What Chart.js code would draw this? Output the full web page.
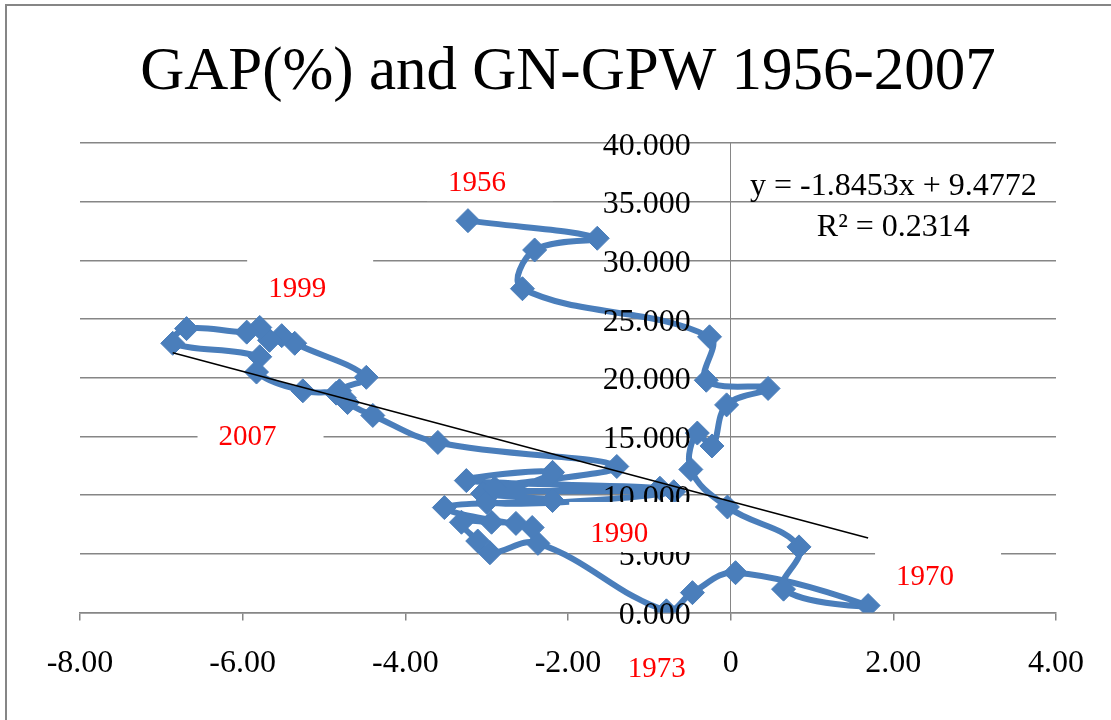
<!DOCTYPE html>
<html>
<head>
<meta charset="utf-8">
<script src="https://cdn.jsdelivr.net/npm/chart.js@4.4.1/dist/chart.umd.min.js"></script>
<style>
  html, body { margin: 0; padding: 0; background: #fff; }
  canvas { display: block; }
</style>
</head>
<body>
<canvas id="c" width="1111" height="720"></canvas>
<script>
// ---- data ----
const years = [1956,1957,1958,1959,1960,1961,1962,1963,1964,1965,1966,1967,1968,1969,1970,1971,1972,1973,
  1974,1975,1976,1977,1978,1979,1980,1981,1982,1983,1984,1985,1986,1987,1988,1989,1990,
  1991,1992,1993,1994,1995,1996,1997,1998,1999,2000,2001,2002,2003,2004,2005,2006,2007];
const gapPct = [-3.23,-1.64,-2.41,-2.56,-0.26,-0.30,0.46,-0.05,-0.23,-0.41,-0.49,-0.04,0.84,0.65,1.69,0.06,-0.47,-0.79,
  -2.37,-2.96,-3.11,-3.31,-2.94,-2.64,-2.44,-3.52,-2.19,-3.05,-0.87,-3.25,-2.19,-3.00,-0.70,-2.90,-1.40,
  -3.60,-4.40,-4.71,-4.81,-4.48,-5.36,-5.52,-5.67,-5.79,-5.95,-6.69,-6.86,-5.79,-5.83,-5.26,-4.85,-4.75];
const gnGpw = [33.4,31.9,30.9,27.6,23.5,19.8,19.1,17.7,14.2,15.3,12.2,9.0,5.6,2.0,0.6,3.4,1.7,0.15,
  5.9,5.1,6.1,7.7,7.7,7.6,7.25,8.95,9.55,10.15,10.6,11.25,11.95,9.4,10.3,10.6,12.45,
  14.5,16.8,17.9,18.9,20.05,22.95,23.6,23.2,24.3,23.9,24.2,22.95,21.8,20.5,18.9,18.7,18.3];

const trendSlope = [-1.8453];
const trendIntercept = [9.4772];
const trendText = ['y = -1.8453x + 9.4772', 'R\u00B2 = 0.2314'];
const trendTextAnchorX = [2.0, 2.0];
const trendTextAnchorY = [36.3, 32.85];

const xTickValues = [-8, -6, -4, -2, 0, 2, 4];
const xTickLabels = ['-8.00', '-6.00', '-4.00', '-2.00', '0', '2.00', '4.00'];
const yTickValues = [0, 5, 10, 15, 20, 25, 30, 35, 40];
const yTickLabels = ['0.000', '5.000', '10.000', '15.000', '20.000', '25.000', '30.000', '35.000', '40.000'];

const noteTexts = ['1956', '1999', '2007', '1990', '1970', '1973'];
const noteAnchorX = [-3.12, -5.33, -5.94, -1.37, 2.39, -0.91];
const noteAnchorY = [36.6, 27.5, 14.9, 6.7, 3.0, -4.8];
const noteHasBox = [true, true, true, true, true, false];

const titleText = 'GAP(%) and GN-GPW 1956-2007';

// ---- build library structures ----
const points = years.map((yr, i) => ({ x: gapPct[i], y: gnGpw[i] }));
const xMin = Math.min(...gapPct), xMax = Math.max(...gapPct);
const trendPoints = [xMin, xMax].map(x => ({ x: x, y: trendSlope[0] * x + trendIntercept[0] }));

const SERIF = '"Liberation Serif", "DejaVu Serif", serif';
const GRID = '#868686';

const decor = {
  id: 'decor',
  beforeDraw(chart) {
    const ctx = chart.ctx;
    ctx.save();
    ctx.fillStyle = '#fff';
    ctx.fillRect(0, 0, chart.width, chart.height);
    ctx.strokeStyle = GRID;
    ctx.lineWidth = 2;
    ctx.strokeRect(6, 5, chart.width + 20, chart.height + 20);
    ctx.restore();
  },
  afterDatasetsDraw(chart) {
    const ctx = chart.ctx, xs = chart.scales.x, ys = chart.scales.y;
    const ax = xs.getPixelForValue(0);
    ctx.save();
    ctx.font = '32px ' + SERIF;
    ctx.fillStyle = '#000';
    ctx.textAlign = 'right';
    ctx.textBaseline = 'middle';
    yTickValues.forEach((v, i) => {
      ctx.fillText(yTickLabels[i], ax - 40, ys.getPixelForValue(v) + 3);
    });
    ctx.restore();
  },
  afterDraw(chart) {
    const ctx = chart.ctx, xs = chart.scales.x, ys = chart.scales.y;
    ctx.save();
    ctx.font = '32px ' + SERIF;
    ctx.fillStyle = '#000';
    ctx.textAlign = 'center';
    ctx.textBaseline = 'middle';
    trendText.forEach((t, i) => {
      ctx.fillText(t, xs.getPixelForValue(trendTextAnchorX[i]), ys.getPixelForValue(trendTextAnchorY[i]));
    });
    ctx.font = '29px ' + SERIF;
    noteTexts.forEach((t, i) => {
      const px = xs.getPixelForValue(noteAnchorX[i]);
      const py = ys.getPixelForValue(noteAnchorY[i]);
      if (noteHasBox[i]) {
        ctx.fillStyle = '#fff';
        ctx.fillRect(px - 50, py - 32, 126, 50);
      }
      ctx.fillStyle = '#FF0000';
      ctx.fillText(t, px, py);
    });
    ctx.restore();
  }
};

new Chart(document.getElementById('c'), {
  type: 'scatter',
  data: {
    datasets: [
      {
        label: 'Linear trend',
        data: trendPoints,
        showLine: true,
        borderColor: '#000',
        borderWidth: 1.5,
        pointRadius: 0,
        tension: 0,
        order: 0
      },
      {
        label: 'GAP vs GN-GPW',
        data: points,
        showLine: true,
        borderColor: '#4A7EBB',
        backgroundColor: '#4A7EBB',
        borderWidth: 6,
        tension: 0.4,
        pointStyle: 'rectRot',
        pointRadius: 12,
        pointBorderWidth: 1,
        pointBorderColor: '#4A7EBB',
        pointBackgroundColor: '#4A7EBB',
        order: 1
      }
    ]
  },
  options: {
    responsive: false,
    animation: false,
    layout: { padding: { left: 80, right: 55, top: 0, bottom: 13 } },
    plugins: {
      legend: { display: false },
      tooltip: { enabled: false },
      title: {
        display: true,
        text: titleText,
        color: '#000',
        font: { family: SERIF, size: 61, weight: 'normal' },
        padding: { top: 36, bottom: 34 }
      }
    },
    scales: {
      x: {
        type: 'linear',
        position: 'bottom',
        min: -8,
        max: 4,
        afterBuildTicks(scale) { scale.ticks = xTickValues.map(v => ({ value: v })); },
        ticks: {
          color: '#000',
          font: { family: SERIF, size: 32 },
          padding: 24,
          maxRotation: 0,
          autoSkip: false,
          callback(v) { const i = xTickValues.indexOf(v); return i >= 0 ? xTickLabels[i] : ''; }
        },
        grid: { drawOnChartArea: false, drawTicks: true, tickLength: 8, color: GRID, lineWidth: 1.5 },
        border: { color: GRID, width: 1.5 }
      },
      y: {
        type: 'linear',
        position: { x: 0 },
        min: 0,
        max: 40,
        afterBuildTicks(scale) { scale.ticks = yTickValues.map(v => ({ value: v })); },
        ticks: { display: false },
        grid: { color: GRID, lineWidth: 1.5, drawTicks: false },
        border: { color: GRID, width: 1 }
      }
    }
  },
  plugins: [decor]
});
</script>
</body>
</html>
